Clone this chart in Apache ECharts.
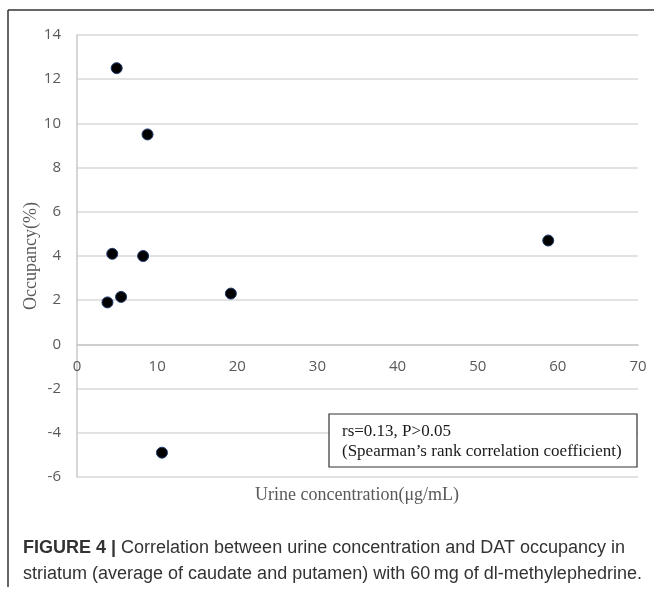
<!DOCTYPE html>
<html>
<head>
<meta charset="utf-8">
<script src="https://cdn.jsdelivr.net/npm/echarts@6/dist/echarts.min.js"></script>
<style>
html,body{margin:0;padding:0;background:#fff;}
#chart{width:654px;height:596px;}
</style>
</head>
<body>
<div id="chart"></div>
<script>
// Data
var urineConc = [4.95, 8.8, 4.4, 8.25, 3.8, 5.5, 19.2, 10.6, 58.8];
var occupancy = [12.5, 9.5, 4.1, 4.0, 1.9, 2.15, 2.3, -4.9, 4.7];
var xTicks = {min: 0, max: 70, interval: 10};
var yTicks = {min: -6, max: 14, interval: 2};
var xTitle = 'Urine concentration(\u03bcg/mL)';
var yTitle = 'Occupancy(%)';
var statLines = ['rs=0.13, P>0.05', '(Spearman\u2019s rank correlation coefficient)'];
var captionBold = 'FIGURE 4 | ';
var caption1 = 'Correlation between urine concentration and DAT occupancy in';
var caption2 = 'striatum (average of caudate and putamen) with 60\u2009mg of dl-methylephedrine.';

var points = urineConc.map(function (x, i) { return [x, occupancy[i]]; });

var chart = echarts.init(document.getElementById('chart'));
chart.setOption({
  backgroundColor: '#fff',
  animation: false,
  grid: {left: 77, top: 35, right: 16, bottom: 119},
  xAxis: {
    type: 'value', min: xTicks.min, max: xTicks.max, interval: xTicks.interval,
    offset: 0,
    axisLine: {show: true, onZero: false, lineStyle: {color: '#c8c8c8', width: 1.5}},
    axisTick: {show: false},
    splitLine: {show: false},
    axisLabel: {color: '#595959', fontSize: 15, fontFamily: 'Open Sans', margin: 15}
  },
  yAxis: {
    type: 'value', min: yTicks.min, max: yTicks.max, interval: yTicks.interval,
    axisLine: {show: true, onZero: false, lineStyle: {color: '#c8c8c8', width: 1.5}},
    axisTick: {show: false},
    splitLine: {show: true, lineStyle: {color: '#d9d9d9', width: 1.5}},
    axisLabel: {color: '#595959', fontSize: 15, fontFamily: 'Open Sans', margin: 16}
  },
  series: [{
    type: 'scatter',
    data: points,
    symbol: 'circle',
    symbolSize: 11,
    z: 5,
    itemStyle: {color: '#000', borderColor: '#1f3a6e', borderWidth: 1, opacity: 1}
  }],
  graphic: [
    // figure frame
    {type: 'line', z: 100, shape: {x1: 8, y1: 10, x2: 654, y2: 10}, style: {stroke: '#333', lineWidth: 1.5}},
    {type: 'line', z: 100, shape: {x1: 8, y1: 10, x2: 8, y2: 587}, style: {stroke: '#333', lineWidth: 1.5}},
    // y title
    {type: 'text', z: 100, x: 31, y: 256, rotation: Math.PI / 2, style: {text: yTitle, font: '18px "Liberation Serif"', fill: '#595959', textAlign: 'center', textVerticalAlign: 'middle'}},
    // x title
    {type: 'text', z: 100, x: 357, y: 495, style: {text: xTitle, font: '18px "Liberation Serif"', fill: '#595959', textAlign: 'center', textVerticalAlign: 'middle'}},
    // stat box
    {type: 'rect', z: 100, shape: {x: 329, y: 414, width: 308, height: 53}, style: {fill: '#fff', stroke: '#333', lineWidth: 1.2}},
    {type: 'text', z: 101, x: 342, y: 432, style: {text: statLines[0], font: '17px "Liberation Serif"', fill: '#1a1a1a', textVerticalAlign: 'middle'}},
    {type: 'text', z: 101, x: 342, y: 452, style: {text: statLines[1], font: '17px "Liberation Serif"', fill: '#1a1a1a', textVerticalAlign: 'middle'}},
    // caption
    {type: 'text', z: 101, x: 23, y: 548, style: {text: '{b|' + captionBold + '}' + caption1, font: '18px "Liberation Sans"', fill: '#333', textVerticalAlign: 'middle', rich: {b: {font: 'bold 18px "Liberation Sans"', fill: '#333'}}}},
    {type: 'text', z: 100, x: 23, y: 574, style: {text: caption2, font: '18px "Liberation Sans"', fill: '#333', textVerticalAlign: 'middle'}}
  ]
});

// Place the x axis (line + labels) on the y = 0 line, as in the reference
var yZero = chart.convertToPixel({yAxisIndex: 0}, 0);
var yBottom = chart.convertToPixel({yAxisIndex: 0}, yTicks.min);
chart.setOption({xAxis: {offset: -(yBottom - yZero)}});
</script>
</body>
</html>
